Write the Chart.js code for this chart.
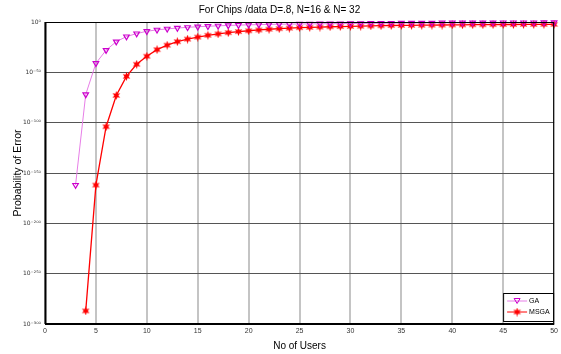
<!DOCTYPE html>
<html>
<head>
<meta charset="UTF-8">
<title>Probability of Error</title>
<script src="https://cdn.jsdelivr.net/npm/chart.js"></script>
<style>
    body { margin: 0; background: #fff; }
    #chart { display: block; }
</style>
</head>
<body>
<canvas id="chart" width="561" height="354"></canvas>
<script>
    // exponents of the probability of error (value = 10^exp)
    const gaUsers = [3,4,5,6,7,8,9,10,11,12,13,14,15,16,17,18,19,20,21,22,23,24,25,26,27,28,29,30,31,32,33,34,35,36,37,38,39,40,41,42,43,44,45,46,47,48,49,50];
    const gaExp = [-162,-72,-41,-28,-19.5,-14.5,-11.5,-9.2,-7.8,-6.8,-6,-5.3,-4.7,-4.2,-3.8,-3.4,-3.1,-2.8,-2.6,-2.4,-2.2,-2.1,-2,-1.9,-1.8,-1.7,-1.6,-1.5,-1.4,-1.3,-1.2,-1.1,-1,-1,-0.9,-0.9,-0.8,-0.8,-0.8,-0.7,-0.7,-0.7,-0.6,-0.6,-0.6,-0.6,-0.5,-0.5];
    const msgaUsers = [4,5,6,7,8,9,10,11,12,13,14,15,16,17,18,19,20,21,22,23,24,25,26,27,28,29,30,31,32,33,34,35,36,37,38,39,40,41,42,43,44,45,46,47,48,49,50];
    const msgaExp = [-287,-162,-104,-73,-54,-42,-34,-27.5,-23,-19.5,-17,-15,-13.2,-11.8,-10.6,-9.5,-8.7,-7.9,-7.2,-6.6,-6.1,-5.6,-5.3,-5,-4.7,-4.5,-4.3,-4.1,-3.9,-3.7,-3.5,-3.4,-3.3,-3.2,-3.1,-3,-2.9,-2.8,-2.7,-2.7,-2.6,-2.5,-2.5,-2.4,-2.4,-2.3,-2.3];
    const yTicks = [0,-50,-100,-150,-200,-250,-300];
    const xTicks = [0,5,10,15,20,25,30,35,40,45,50];

    const sup = { '0':'⁰','1':'¹','2':'²','3':'³','4':'⁴','5':'⁵','6':'⁶','7':'⁷','8':'⁸','9':'⁹','-':'⁻' };
    function powLabel(v) {
        return '10' + String(v).split('').map(c => sup[c]).join('');
    }

    // star marker like the matlab hexagram
    function starCanvas() {
        const c = document.createElement('canvas');
        c.width = 9; c.height = 9;
        const g = c.getContext('2d');
        g.fillStyle = '#ff0000';
        g.beginPath();
        for (let i = 0; i < 12; i++) {
            const r = i % 2 === 0 ? 4.4 : 2.1;
            const a = -Math.PI / 2 + i * Math.PI / 6;
            const px = 4.5 + r * Math.cos(a), py = 4.5 + r * Math.sin(a);
            i === 0 ? g.moveTo(px, py) : g.lineTo(px, py);
        }
        g.closePath();
        g.fill();
        return c;
    }
    const star = starCanvas();

    const framePlugin = {
        id: 'frame',
        afterDraw(chart) {
            const { ctx, chartArea: a } = chart;
            ctx.save();
            ctx.strokeStyle = '#000';
            ctx.lineWidth = 1;
            ctx.strokeRect(a.left + 0.5, a.top + 0.5, a.right - a.left - 1, a.bottom - a.top);
            ctx.lineWidth = 2;
            ctx.beginPath();
            ctx.moveTo(a.left, a.bottom);
            ctx.lineTo(a.right, a.bottom);
            ctx.moveTo(a.left + 0.5, a.top);
            ctx.lineTo(a.left + 0.5, a.bottom);
            ctx.stroke();

            // legend box in lower right corner
            const w = 50, h = 28;
            const x0 = a.right - w - 1, y0 = a.bottom - h - 3;
            ctx.fillStyle = '#fff';
            ctx.fillRect(x0, y0, w, h);
            ctx.lineWidth = 1;
            ctx.strokeRect(x0 + 0.5, y0 + 0.5, w, h);
            ctx.font = '7px "Liberation Sans", Arial, sans-serif';
            ctx.textBaseline = 'middle';
            chart.data.datasets.forEach((ds, i) => {
                const yy = y0 + 8 + i * 11;
                ctx.strokeStyle = ds.borderColor;
                ctx.beginPath();
                ctx.moveTo(x0 + 4, yy);
                ctx.lineTo(x0 + 24, yy);
                ctx.stroke();
                if (i === 0) {
                    ctx.strokeStyle = '#cc00cc';
                    ctx.beginPath();
                    ctx.moveTo(x0 + 11, yy - 2.5);
                    ctx.lineTo(x0 + 17, yy - 2.5);
                    ctx.lineTo(x0 + 14, yy + 2.5);
                    ctx.closePath();
                    ctx.stroke();
                } else {
                    ctx.drawImage(star, x0 + 14 - 4.5, yy - 4.5);
                }
                ctx.fillStyle = '#000';
                ctx.fillText(ds.label, x0 + 26, yy);
            });
            ctx.restore();
        }
    };

    new Chart(document.getElementById('chart'), {
        type: 'line',
        data: {
            datasets: [
                {
                    label: 'GA',
                    data: gaUsers.map((u, i) => ({ x: u, y: gaExp[i] })),
                    borderColor: '#e77ee7',
                    borderWidth: 1,
                    pointStyle: 'triangle',
                    rotation: 180,
                    pointRadius: 3.2,
                    pointBorderColor: '#cc00cc',
                    pointBackgroundColor: 'rgba(0,0,0,0)',
                    pointBorderWidth: 1.2,
                    tension: 0
                },
                {
                    label: 'MSGA',
                    data: msgaUsers.map((u, i) => ({ x: u, y: msgaExp[i] })),
                    borderColor: '#ff0000',
                    borderWidth: 1.3,
                    pointStyle: star,
                    tension: 0
                }
            ]
        },
        options: {
            responsive: false,
            animation: false,
            clip: false,
            layout: { padding: { left: 0, right: 2, top: 0, bottom: 0 } },
            plugins: {
                legend: { display: false },
                tooltip: { enabled: false },
                title: {
                    display: true,
                    text: 'For Chips /data D=.8, N=16 & N= 32',
                    color: '#000',
                    font: { family: '"Liberation Sans", Arial, sans-serif', size: 10, weight: 'normal' },
                    padding: { top: 4, bottom: 6 }
                }
            },
            scales: {
                x: {
                    type: 'linear',
                    min: 0,
                    max: 50,
                    afterBuildTicks: s => { s.ticks = xTicks.map(v => ({ value: v })); },
                    grid: { color: '#c4c4c4', lineWidth: 2, drawTicks: false },
                    border: { display: false },
                    ticks: {
                        color: '#333',
                        padding: 3,
                        maxRotation: 0,
                        font: { family: '"Liberation Sans", Arial, sans-serif', size: 7 }
                    },
                    title: {
                        display: true,
                        text: 'No of Users',
                        color: '#000',
                        font: { family: '"Liberation Sans", Arial, sans-serif', size: 10 },
                        padding: { top: 1, bottom: 2 }
                    },
                    afterFit: s => { s.height = 30; }
                },
                y: {
                    type: 'linear',
                    min: -300,
                    max: 0,
                    afterBuildTicks: s => { s.ticks = yTicks.map(v => ({ value: v })); },
                    grid: { color: '#555', lineWidth: 1, drawTicks: false },
                    border: { display: false },
                    ticks: {
                        color: '#333',
                        padding: 4,
                        font: { family: '"DejaVu Sans", sans-serif', size: 6 },
                        callback: v => powLabel(v)
                    },
                    title: {
                        display: true,
                        text: 'Probability of Error',
                        color: '#000',
                        font: { family: '"Liberation Sans", Arial, sans-serif', size: 10.5 },
                        padding: { top: 12, bottom: 2 }
                    },
                    afterFit: s => { s.width = 45; }
                }
            }
        },
        plugins: [framePlugin]
    });
</script>
</body>
</html>
